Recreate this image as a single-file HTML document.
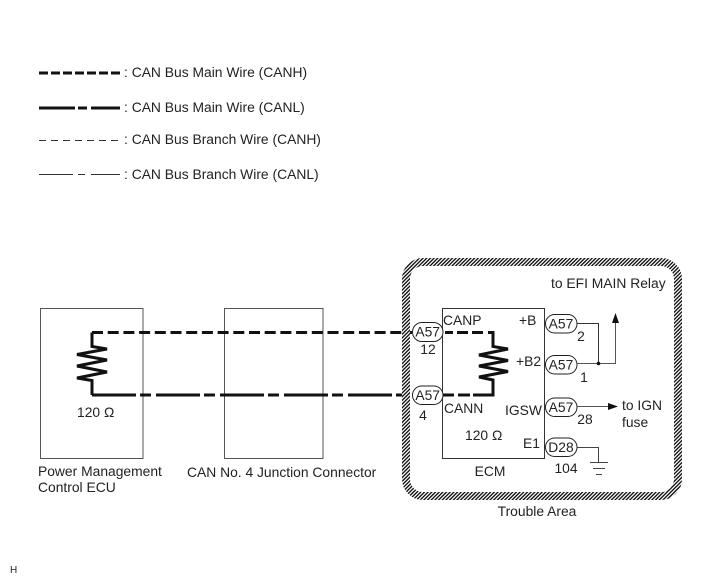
<!DOCTYPE html>
<html><head><meta charset="utf-8"><style>
html,body{margin:0;padding:0;background:#fff}
svg{display:block}
text{font-family:"Liberation Sans",sans-serif;font-size:13.85px;fill:#222}
.m{text-anchor:middle}
</style></head><body>
<svg width="714" height="588" viewBox="0 0 714 588" xmlns="http://www.w3.org/2000/svg">
<defs><pattern id="h" width="2.6" height="2.6" patternUnits="userSpaceOnUse" patternTransform="rotate(45)"><rect width="2.6" height="2.6" fill="#fff"/><rect width="1.35" height="2.6" fill="#111"/></pattern></defs>
<rect width="714" height="588" fill="#fff"/>
<!-- legend -->
<g fill="none">
<path d="M39 73H120" stroke="#111" stroke-width="3" stroke-dasharray="9 3"/>
<path d="M39 108H75M78 108H87M91 108H120" stroke="#111" stroke-width="3"/>
<path d="M39 140.5H120" stroke-width="1" stroke-dasharray="7 5" stroke="#333"/>
<path d="M39 174.5H73M78 174.5H85M91 174.5H120" stroke-width="1" stroke="#333"/>
</g>
<text x="124" y="77">: CAN Bus Main Wire (CANH)</text>
<text x="124" y="112">: CAN Bus Main Wire (CANL)</text>
<text x="124" y="144">: CAN Bus Branch Wire (CANH)</text>
<text x="124" y="179">: CAN Bus Branch Wire (CANL)</text>
<!-- boxes -->
<g fill="none" stroke="#555" stroke-width="1">
<rect x="40.5" y="308.5" width="102.5" height="150"/>
<rect x="224.5" y="308.5" width="98.5" height="150"/>
<rect x="442.5" y="308.5" width="102" height="150" stroke="#333"/>
</g>
<!-- main wires -->
<g fill="none" stroke="#111" stroke-width="3">
<path d="M92 332.5H412" stroke-dasharray="11 4.7"/>
<path d="M92 395H412" stroke-dasharray="44 4 11 5"/>
<path d="M92 332.5V346.5L107 349L77 354.5L107 360L77 366L107 372L77 378L92 380.5V395"/>
<path d="M445 332.5H453M457 332.5H468M472 332.5H483M488 332.5H493V346.5L508 349L479 355L508 360.5L479 366L508 371.5L479 377L493 380V395H473M470 395H458M454 395H443"/>
</g>
<!-- hatched area -->
<rect x="406" y="262" width="272" height="234" rx="17" fill="none" stroke="url(#h)" stroke-width="8"/>
<!-- connectors -->
<g fill="#fff" stroke="#222" stroke-width="1">
<rect x="412.5" y="322.5" width="30.5" height="19" rx="9.5"/>
<rect x="412.5" y="386" width="30.5" height="18.5" rx="9.2"/>
<rect x="545.5" y="314.5" width="31.5" height="18.5" rx="9.2"/>
<rect x="545.5" y="355.5" width="31.5" height="18.5" rx="9.2"/>
<rect x="545.5" y="398" width="31.5" height="18.5" rx="9.2"/>
<rect x="545.5" y="438" width="31.5" height="18.5" rx="9.2"/>
</g>
<text class="m" x="427.7" y="336.5">A57</text>
<text class="m" x="427.7" y="400">A57</text>
<text class="m" x="561" y="328.5">A57</text>
<text class="m" x="561" y="369.5">A57</text>
<text class="m" x="561" y="412">A57</text>
<text class="m" x="561" y="452">D28</text>
<!-- right side wiring -->
<g fill="none" stroke="#333" stroke-width="1">
<path d="M577 323.5H598.5V363"/>
<path d="M577 363.5H615.5V320" stroke="#555"/>
<path d="M577 406.5H610" stroke="#555"/>
<path d="M577 447.5H598.5V462" stroke="#444"/>
<path d="M590 462.5H608M593 468.5H605M596 474.5H602" stroke="#444"/>
</g>
<circle cx="598.5" cy="363.5" r="1.8" fill="#111"/>
<path d="M615.5 313L619 323H612Z" fill="#111"/>
<path d="M608 403L618 406.5L608 410Z" fill="#111"/>
<!-- labels -->
<text class="m" x="428" y="354">12</text>
<text class="m" x="423" y="420">4</text>
<text x="443" y="325">CANP</text>
<text x="519" y="325">+B</text>
<text x="516" y="366">+B2</text>
<text x="444" y="413">CANN</text>
<text x="505" y="415">IGSW</text>
<text x="465" y="440">120 Ω</text>
<text x="523" y="448">E1</text>
<text class="m" x="490" y="476">ECM</text>
<text class="m" x="537" y="516">Trouble Area</text>
<text x="551" y="288">to EFI MAIN Relay</text>
<text class="m" x="581" y="341">2</text>
<text class="m" x="584" y="382">1</text>
<text class="m" x="585" y="424">28</text>
<text x="622" y="410">to IGN</text>
<text x="622" y="427">fuse</text>
<text class="m" x="566" y="473">104</text>
<text x="77" y="417">120 Ω</text>
<text x="38" y="476">Power Management</text>
<text x="38" y="492">Control ECU</text>
<text x="187" y="477">CAN No. 4 Junction Connector</text>
<text x="10" y="573" style="font-size:10px">H</text>
</svg>
</body></html>
